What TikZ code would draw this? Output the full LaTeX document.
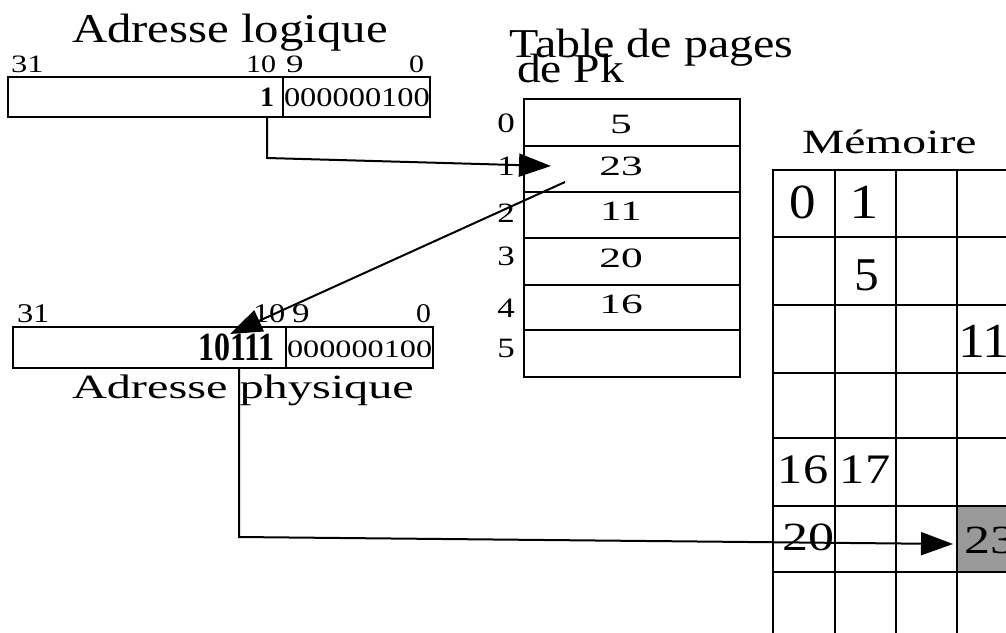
\documentclass[tikz,border=0pt]{standalone}
\usepackage{fontspec}
\setmainfont{Liberation Serif}
\usepackage{graphicx}
\usetikzlibrary{arrows.meta}

% text set at a given size and stretched horizontally
\newcommand\wtext[3]{\scalebox{#1}[1]{\fontsize{#2}{#2}\selectfont #3}}

\begin{document}
\begin{tikzpicture}[x=1pt,y=-1pt,
  lbl/.style={inner sep=0, outer sep=0, anchor=base west},
  mid/.style={inner sep=0, outer sep=0, anchor=base},
  box/.style={draw, line width=1.5pt, inner sep=0, outer sep=0, anchor=north west},
  cell/.style={draw, line width=2.2pt, inner sep=0, outer sep=0, anchor=north west},
  link/.style={line width=2pt, -{Triangle[length=32pt,width=23pt]}}]

\useasboundingbox (0,0) rectangle (1006,632);
\clip (0,0) rectangle (1006,632);

% ---------- logical address ----------
\node[box, minimum width=275, minimum height=40] (lhi) at (8,77) {};
\node[box, minimum width=147, minimum height=40] (llo) at (283,77) {};
\node[lbl] (tlog) at (72,42) {\wtext{1.19}{41}{Adresse logique}};
\node[lbl] (l31) at (11,72) {\wtext{1.3}{25}{31}};
\node[lbl] (l10) at (246,72) {\wtext{1.2}{25}{10}};
\node[lbl] (l9) at (286,72) {\wtext{1.4}{25}{9}};
\node[lbl] (l0) at (409,72) {\wtext{1.2}{25}{0}};
\node[lbl] (lbit) at (260,106) {\wtext{1}{28}{\bfseries 1}};
\node[lbl] (loff) at (284,106) {\wtext{1.2}{27}{000000100}};

% ---------- physical address ----------
\node[box, minimum width=273, minimum height=41] (phi) at (13,327) {};
\node[box, minimum width=147, minimum height=41] (plo) at (286,327) {};
\node[lbl] (p31) at (17,322) {\wtext{1.2}{27}{31}};
\node[lbl] (p10) at (253,322) {\wtext{1.2}{27}{10}};
\node[lbl] (p9) at (292,322) {\wtext{1.3}{27}{9}};
\node[lbl] (p0) at (416,322) {\wtext{1.1}{27}{0}};
\node[lbl] (pframe) at (198,360) {\wtext{0.8}{40}{\bfseries 10111}};
\node[lbl] (poff) at (287,357) {\wtext{1.29}{25}{000000100}};
\node[lbl] (tphy) at (72,398) {\wtext{1.42}{34}{Adresse physique}};

% ---------- page table ----------
\node[lbl] (ttab1) at (509,57) {\wtext{1.17}{41}{Table de pages}};
\node[lbl] (ttab2) at (517,82) {\wtext{1.16}{41}{de Pk}};
\foreach \i/\y/\h/\v/\b in {0/99/47/5/133, 1/146/46/23/175, 2/192/46/11/220,
                            3/238/47/20/267, 4/285/45/16/313, 5/330/47//0}{
  \node[box, minimum width=216, minimum height=\h] (pt\i) at (524,\y) {};
  \node[mid] (pv\i) at (621,\b) {\wtext{1.55}{28}{\v}};
}
\foreach \i/\b in {0/132, 1/175, 2/222, 3/265, 4/317, 5/357}
  \node[mid] (pi\i) at (506,\b) {\wtext{1.25}{28}{\i}};

% ---------- memory ----------
\node[lbl] (tmem) at (802,153) {\wtext{1.4}{34}{Mémoire}};
\foreach \r/\ya/\yb in {0/170/237, 1/237/305, 2/305/373, 3/373/438,
                        4/438/506, 5/506/572, 6/572/640}
  \foreach \c/\xa/\xb in {0/773/835, 1/835/896, 2/896/957, 3/957/1020}
    \node[cell, minimum width=\xb-\xa, minimum height=\yb-\ya] (m-\r-\c) at (\xa,\ya) {};
\node[cell, fill=black!40, minimum width=63, minimum height=66] (frame) at (957,506) {};

\node[mid] (f0) at (803,218) {\wtext{1.08}{49}{0}};
\node[mid] (f1) at (864,218) {\wtext{1.2}{49}{1}};
\node[mid] (f5) at (867,290) {\wtext{1.05}{47}{5}};
\node[lbl] (f11) at (958,357) {\wtext{1.1}{49}{11}};
\node[mid] (f16) at (803,483) {\wtext{1.2}{42}{16}};
\node[mid] (f17) at (865,483) {\wtext{1.2}{42}{17}};
\node[mid] (f20) at (808,550) {\wtext{1.3}{40}{20}};
\node[lbl] (f23) at (964,553) {\wtext{1.3}{40}{23}};

% ---------- connectors ----------
\coordinate (a1s) at (lbit.south |- lhi.south);
\coordinate (a1t) at (551,166);
\draw[link] (a1s) -- (a1s |- 0,158) -- (a1t);

\coordinate (a2s) at (565,182);
\coordinate (a2t) at (230,334);
\draw[link] (a2s) -- (a2t);

\coordinate (a3s) at (239,0 |- phi.south);
\coordinate (a3t) at (953,544);
\draw[link] (a3s) -- (a3s |- 0,537) -- (a3t);
\end{tikzpicture}
\end{document}
